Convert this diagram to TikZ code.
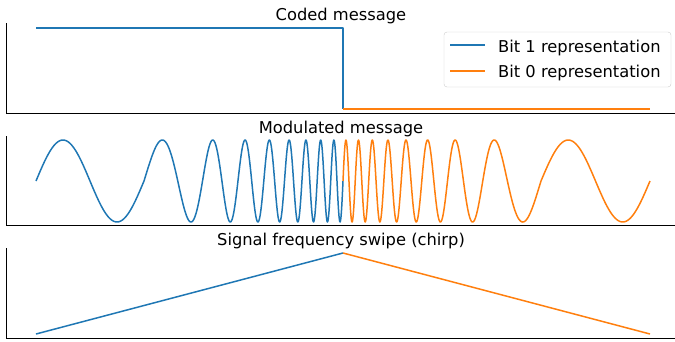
\documentclass[tikz,border=0pt]{standalone}
\usepackage{fontspec}
\setmainfont{DejaVu Sans}
\usepackage{tikz}
\definecolor{tabblue}{HTML}{1F77B4}
\definecolor{taborange}{HTML}{FF7F0E}

\begin{document}
\begin{tikzpicture}[x=1pt, y=-1pt,
	bitone/.style={tabblue, line width=1.5pt, line join=round},
	bitzero/.style={taborange, line width=1.5pt, line join=round},
	spine/.style={black, line width=0.9pt},
	ttl/.style={anchor=base, inner sep=0pt, font=\fontsize{16.3}{19}\selectfont},
	declare function={psi(\v)=5*\v+4.09*\v*\v+6.91*\v*\v*\v;}]
	\useasboundingbox (0,0) rectangle (675,341);

	\node[ttl] (coded) at (341,20) {Coded message};
	\node[ttl] (modul) at (341,133) {Modulated message};
	\node[ttl] (chirp) at (341,245) {Signal frequency swipe (chirp)};

	\draw[spine] (6,23) -- (6,113) -- (675,113);
	\draw[spine] (6,136) -- (6,225) -- (675,225);
	\draw[spine] (6,248) -- (6,338) -- (675,338);

	\draw[bitone] (36,28) -- (343,28) -- (343,109);
	\draw[bitzero] (343,109) -- (650,109);

	\draw[bitone] plot[domain=36:144, samples=80] (\x, {181-41*sin(3.3333*(\x-36))});
	\draw[bitone] plot[domain=144:343, samples=500] (\x, {181-41*sin(180*psi((\x-144)/199))});
	\draw[bitzero] plot[domain=343:541, samples=500] (\x, {181+41*sin(180*psi((541-\x)/198))});
	\draw[bitzero] plot[domain=541:650, samples=80] (\x, {181-41*sin(3.3028*(\x-541))});

	\coordinate (start) at (36,334);
	\coordinate (peak) at (343,253);
	\coordinate (stop) at (650,334);
	\draw[bitone] (start) -- (peak);
	\draw[bitzero] (peak) -- (stop);

	\draw[draw=black!20, fill=white, rounded corners=3pt] (444,32) rectangle (671,87);
	\node[ttl, anchor=base west] (lgone) at (498,52) {Bit 1 representation};
	\node[ttl, anchor=base west] (lgzero) at (498,77) {Bit 0 representation};
	\draw[bitone] (450,45) -- (485,45);
	\draw[bitzero] (450,71) -- (485,71);
\end{tikzpicture}
\end{document}
